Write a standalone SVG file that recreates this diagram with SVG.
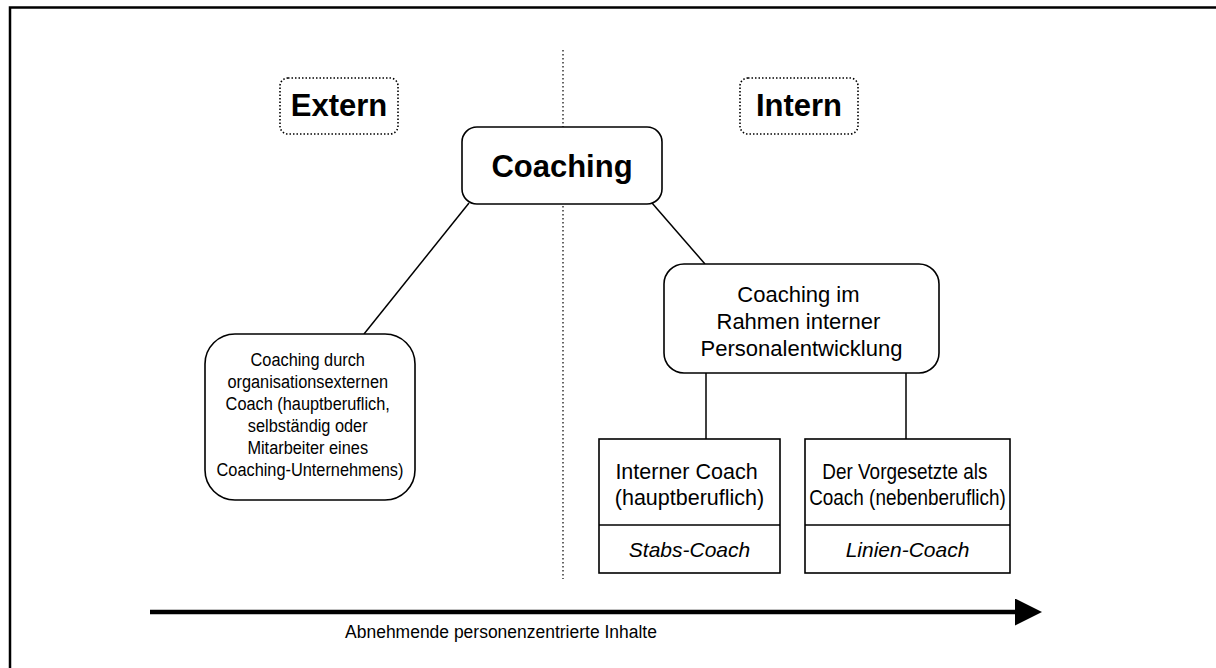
<svg xmlns="http://www.w3.org/2000/svg" width="1216" height="668" viewBox="0 0 1216 668">
<style>
text{font-family:"Liberation Sans",Arial,sans-serif;fill:#000;text-anchor:middle}
.b{font-weight:bold;font-size:31px}
.box{fill:#fff;stroke:#000;stroke-width:1.6}
.dot{fill:#fff;stroke:#000;stroke-width:1.6;stroke-dasharray:1.5 2}
.ln{stroke:#000;stroke-width:1.5;fill:none}
</style>
<defs>
<marker id="ah" markerWidth="6" markerHeight="6" refX="0" refY="3" orient="auto" markerUnits="strokeWidth">
<path d="M0,0 L6,3 L0,6 Z" fill="#000"/>
</marker>
</defs>
<rect x="0" y="0" width="1216" height="668" fill="#fff"/>
<rect x="10" y="7.5" width="1220" height="700" fill="none" stroke="#000" stroke-width="2.5"/>
<line x1="563" y1="50" x2="563" y2="579" stroke="#000" stroke-width="1.2" stroke-dasharray="1.5 2.5"/>
<g id="connectors">
<line class="ln" x1="469" y1="203" x2="364" y2="334"/>
<line class="ln" x1="652" y1="203" x2="705" y2="264"/>
<line class="ln" x1="706" y1="373" x2="706" y2="439"/>
<line class="ln" x1="906" y1="373" x2="906" y2="439"/>
<line x1="150" y1="612" x2="1015" y2="612" stroke="#000" stroke-width="4.5" marker-end="url(#ah)"/>
</g>
<g id="extern">
<rect class="dot" x="280" y="78" width="118" height="56" rx="8"/>
<text class="b" x="339" y="116">Extern</text>
</g>
<g id="intern">
<rect class="dot" x="740" y="78" width="118" height="56" rx="8"/>
<text class="b" x="799" y="116">Intern</text>
</g>
<g id="coaching">
<rect class="box" x="462" y="127" width="200" height="77" rx="15"/>
<text class="b" x="562" y="177">Coaching</text>
</g>
<g id="extern-coach">
<rect class="box" x="205" y="334" width="210" height="166" rx="30"/>
<text x="310" y="366" font-size="19" transform="matrix(0.86 0 0 1 43.4 0)">
<tspan x="310">Coaching durch</tspan>
<tspan x="310" dy="22">organisationsexternen</tspan>
<tspan x="310" dy="22">Coach (hauptberuflich,</tspan>
<tspan x="310" dy="22">selbständig oder</tspan>
<tspan x="310" dy="22">Mitarbeiter eines</tspan>
<tspan x="310" dy="22">Coaching-Unternehmens)</tspan>
</text>
</g>
<g id="pe">
<rect class="box" x="664" y="264" width="275" height="109" rx="20"/>
<text x="801.5" y="302" font-size="22">
<tspan x="801.5">Coaching im</tspan>
<tspan x="801.5" dy="27">Rahmen interner</tspan>
<tspan x="801.5" dy="27">Personalentwicklung</tspan>
</text>
</g>
<g id="stabs">
<rect class="box" x="599" y="439" width="181" height="134"/>
<line class="ln" x1="599" y1="525" x2="780" y2="525"/>
<text x="689.5" y="479" font-size="21.5">
<tspan x="689.5">Interner Coach</tspan>
<tspan x="689.5" dy="26">(hauptberuflich)</tspan>
</text>
<text x="689.5" y="557" font-size="21" font-style="italic">Stabs-Coach</text>
</g>
<g id="linien">
<rect class="box" x="805" y="439" width="205" height="134"/>
<line class="ln" x1="805" y1="525" x2="1010" y2="525"/>
<text x="907.5" y="479" font-size="21.5" transform="matrix(0.88 0 0 1 108.9 0)">
<tspan x="907.5">Der Vorgesetzte als</tspan>
<tspan x="907.5" dy="26">Coach (nebenberuflich)</tspan>
</text>
<text x="907.5" y="557" font-size="21" font-style="italic">Linien-Coach</text>
</g>
<g id="label">
<text x="501" y="638" font-size="19" transform="matrix(0.92 0 0 1 40.08 0)">Abnehmende personenzentrierte Inhalte</text>
</g>
</svg>
